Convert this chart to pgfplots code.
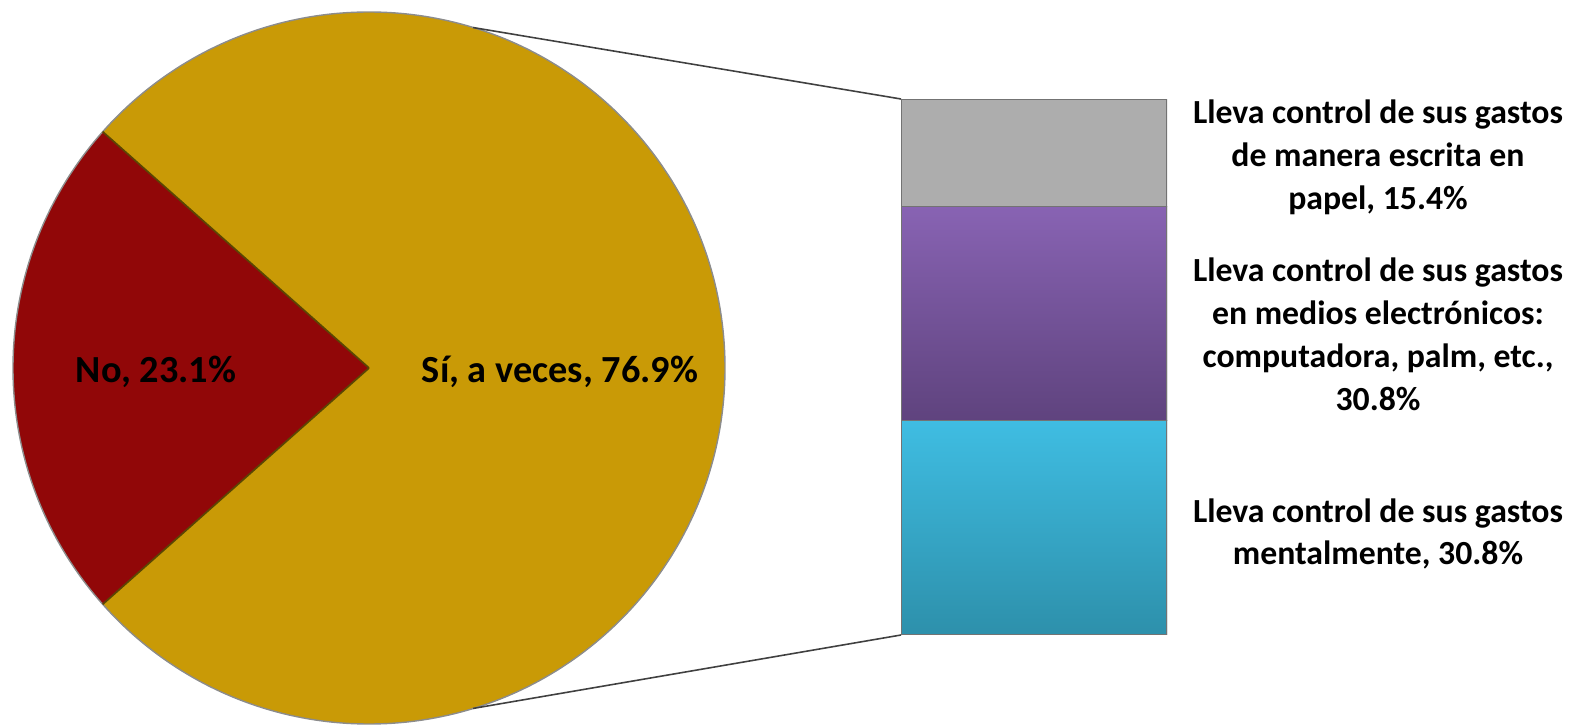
\documentclass[border=0pt]{standalone}
\usepackage{fontspec}
\setmainfont{Carlito}
\usepackage{pgfplots}
\usepackage{pgfplotstable}
\pgfplotsset{compat=1.18}

\definecolor{gold}{HTML}{C99A06}
\definecolor{wine}{HTML}{910708}
\definecolor{papel}{HTML}{ADADAD}
\definecolor{violetatop}{HTML}{8863B3}
\definecolor{violetabot}{HTML}{5F437E}
\definecolor{cyantop}{HTML}{3FBDE2}
\definecolor{cyanbot}{HTML}{2D90AB}

% pie: share of respondents
\pgfplotstableread{
resp  val
No    23.1
Si    76.9
}\pietable

% bar: how "Si" keeps track of expenses
\pgfplotstableread{
x  mental  electr  papel
1  30.8    30.8    15.4
}\bartable

\pgfplotstablegetelem{0}{val}\of\pietable
\pgfmathsetmacro{\noA}{180-\pgfplotsretval*1.8}
\pgfmathsetmacro{\noB}{180+\pgfplotsretval*1.8}
\pgfmathsetmacro{\siB}{\noA+360}

\begin{document}
\begin{tikzpicture}
  % canvas axis in pixel units (1px = 0.1mm)
  \begin{axis}[
      at={(0,0)}, anchor=south west,
      width=158.1mm, height=72.4mm, scale only axis,
      xmin=0, xmax=1581, ymin=0, ymax=724,
      hide axis, clip=false
    ]
    % pie
    \fill[gold] (axis cs:369,356) -- +(\noB:35.6mm) arc[start angle=\noB, end angle=\siB, radius=35.6mm] -- cycle;
    \fill[wine] (axis cs:369,356) -- +(\noA:35.6mm) arc[start angle=\noA, end angle=\noB, radius=35.6mm] -- cycle;
    \draw[black!45, line width=0.4pt] (axis cs:369,356) circle[radius=35.6mm];
    \draw[black!55!gold, line width=0.5pt] (axis cs:369,356) -- +(\noA:35.6mm)
      (axis cs:369,356) -- +(\noB:35.6mm);

    % connector lines
    \draw[black!75, line width=0.45pt] (axis cs:369,356) ++(73:35.6mm) -- (axis cs:901,625);
    \draw[black!75, line width=0.45pt] (axis cs:369,356) ++(-73:35.6mm) -- (axis cs:901,89);

    \node[font=\fontsize{10.9}{13}\selectfont\bfseries] at (axis cs:156,352) {No, 23.1\%};
    \node[font=\fontsize{10.9}{13}\selectfont\bfseries] at (axis cs:560,352) {Sí, a veces, 76.9\%};

    \node[font=\fontsize{9.6}{12.2}\selectfont\bfseries, align=center] at (axis cs:1378,567)
      {Lleva control de sus gastos\\de manera escrita en\\papel, 15.4\%};
    \node[font=\fontsize{9.6}{12.2}\selectfont\bfseries, align=center] at (axis cs:1378,390)
      {Lleva control de sus gastos\\en medios electrónicos:\\computadora, palm, etc.,\\30.8\%};
    \node[font=\fontsize{9.6}{12.2}\selectfont\bfseries, align=center] at (axis cs:1378,190)
      {Lleva control de sus gastos\\mentalmente, 30.8\%};
  \end{axis}

  % stacked bar
  \begin{axis}[
      at={(90.1mm,8.9mm)}, anchor=south west,
      width=26.6mm, height=53.6mm, scale only axis,
      xmin=0.5, xmax=1.5, ymin=0, ymax=77,
      ybar stacked, bar width=26.6mm,
      hide axis
    ]
    \addplot[draw=black!55, line width=0.3pt, top color=cyantop, bottom color=cyanbot] table[x=x, y=mental] {\bartable};
    \addplot[draw=black!55, line width=0.3pt, top color=violetatop, bottom color=violetabot] table[x=x, y=electr] {\bartable};
    \addplot[draw=black!55, line width=0.3pt, fill=papel] table[x=x, y=papel] {\bartable};
  \end{axis}

  \pgfresetboundingbox
  \path (0,0) rectangle (158.1mm,72.4mm);
\end{tikzpicture}
\end{document}
